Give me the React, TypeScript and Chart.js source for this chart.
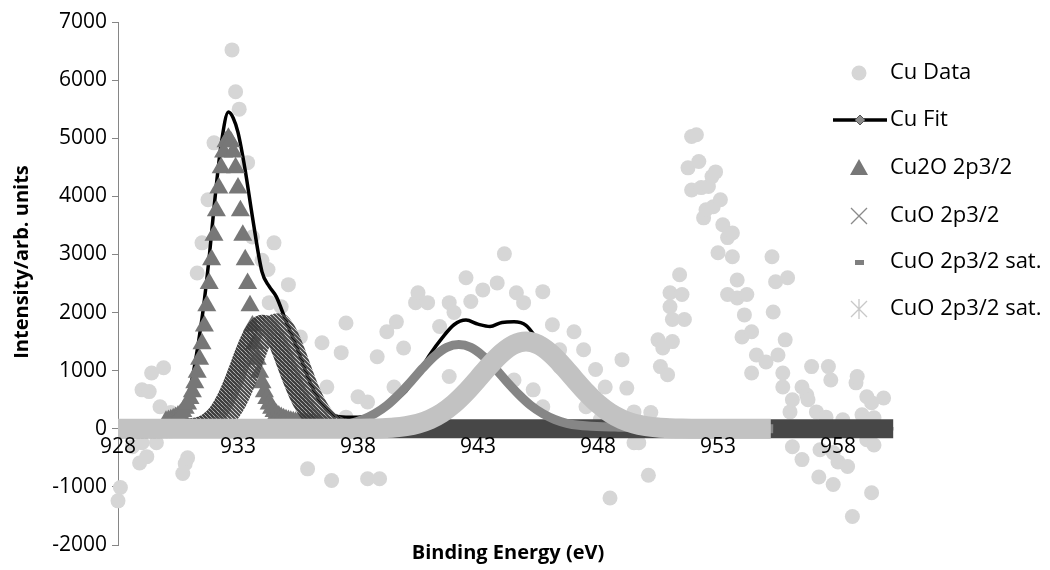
import React, { useEffect, useRef } from "react";
import { Chart, registerables } from "chart.js";

Chart.register(...registerables);

// ---------- data ----------
const xTickValues = [928, 933, 938, 943, 948, 953, 958];
const legendLabels = ["Cu Data", "Cu Fit", "Cu2O 2p3/2", "CuO 2p3/2", "CuO 2p3/2 sat.", "CuO 2p3/2 sat."];

// Cu Data (raw measured points)
const dataX = [
  928.0, 928.1, 928.6, 928.9, 929.0, 929.0, 929.2, 929.3, 929.4, 929.6, 929.75, 929.9, 930.2, 930.7, 930.8, 930.9,
  931.3, 931.5, 931.75, 932.0, 932.75, 932.9, 933.05, 933.4, 933.6, 934.0, 934.25, 934.3, 934.5, 934.8, 935.1,
  935.6, 935.9, 936.5, 936.7, 936.9, 937.3, 937.5, 937.5, 938.0, 938.4, 938.4, 938.8, 938.9, 939.2, 939.5, 939.6,
  939.9, 940.4, 940.5, 940.9, 941.4, 941.8, 941.8, 942.0, 942.5, 942.7, 943.2, 943.8, 944.1, 944.5, 944.6, 944.9,
  945.3, 945.7, 945.7, 946.1, 946.4, 946.4, 947.0, 947.4, 947.5, 947.9, 948.1, 948.3, 948.5, 949.0, 949.2, 949.5,
  949.5, 949.7, 950.1, 950.2, 950.5, 950.6, 950.7, 950.9, 951.0, 951.0, 951.1, 951.1, 951.4, 951.5, 951.6, 951.75,
  951.9, 951.9, 952.1, 952.2, 952.3, 952.4, 952.5, 952.6, 952.75, 952.8, 952.9, 953.0, 953.1, 953.2, 953.4, 953.4,
  953.6, 953.6, 953.8, 953.8, 954.0, 954.1, 954.2, 954.4, 954.4, 954.6, 955.0, 955.25, 955.3, 955.4, 955.5, 955.7,
  955.7, 955.8, 955.9, 956.0, 956.1, 956.1, 956.5, 956.5, 956.7, 956.75, 956.9, 957.1, 957.2, 957.25, 957.5, 957.6,
  957.7, 957.8, 957.8, 958.0, 958.2, 958.4, 958.6, 958.75, 958.8, 959.0, 959.2, 959.2, 959.4, 959.4, 959.5, 959.5,
  959.9,
];
const dataY = [
  -1240, -1010, -310, -590, 670, -240, -480, 640, 960, -240, 380, 1050, 280, -770, -600, -500,
  2680, 3200, 3940, 4920, 6520, 5800, 5500, 4580, 3300, 2900, 2740, 2170, 3200, 2100, 2480,
  1580, -690, 1480, 720, -890, 1310, 1820, 200, 550, 460, -860, 1240, -860, 1670, 720, 1840,
  1390, 2170, 2340, 2170, 1760, 2170, 900, 2000, 2600, 2190, 2390, 2510, 3010, 840, 2340, 2170,
  670, 2360, 380, 1790, 1360, 1070, 1670, 1360, 380, 1020, 160, 720, -1190, 1190, 700, 290,
  -240, -240, -800, 280, 1530, 1070, 1390, 930, 2340, 2100, 1880, 1500, 2650, 2310, 1880, 4490,
  5030, 4110, 5060, 4600, 4150, 3630, 3770, 4170, 4340, 3820, 4420, 3030, 3940, 3510, 3290, 2310,
  3370, 2960, 2560, 2250, 1580, 1960, 2310, 1670, 960, 1270, 1150, 2960, 2010, 2530, 1270, 960,
  720, 1530, 2600, 290, 500, -310, 720, -530, 580, 500, 1070, 290, -830, -360, 200, 1070,
  840, -410, -960, -570, 155, -650, -1510, 790, 900, 240, 550, -190, 450, -1100, 190, -280,
  530,
];

// Cu Fit
const fitX = [
  928.0, 930.0, 930.5, 931.0, 931.5, 931.8, 932.0, 932.3, 932.6, 932.8, 933.0, 933.3, 933.6, 934.0, 934.3, 934.6,
  935.0, 935.5, 936.0, 936.5, 937.0, 937.5, 938.0, 938.5, 939.0, 939.5, 940.0, 940.5, 941.0, 941.5, 942.0, 942.5,
  943.0, 943.5, 944.0, 944.5, 945.0, 945.5, 946.0, 946.5, 947.0, 947.5, 948.0, 948.5, 949.0, 950.0, 951.0, 953.0,
  960.3,
];
const fitY = [
  0, 80, 250, 700, 1900, 2950, 3800, 4900, 5450, 5350, 5100, 4450, 3650, 2700, 2450, 2270,
  1850, 1350, 800, 420, 230, 200, 200, 230, 330, 480, 650, 950, 1280, 1560, 1790, 1870,
  1800, 1760, 1830, 1840, 1780, 1520, 1250, 1000, 720, 480, 320, 200, 120, 60, 30, 0,
  0,
];

// Cu2O 2p3/2 (triangles)
const cu2oX = [
  930.0, 930.1, 930.2, 930.3, 930.4, 930.5, 930.6, 930.7, 930.8, 930.9, 931.0, 931.1, 931.2, 931.3, 931.4, 931.5,
  931.6, 931.7, 931.8, 931.9, 932.0, 932.1, 932.2, 932.3, 932.4, 932.5, 932.6, 932.7, 932.8, 932.9, 933.0, 933.1,
  933.2, 933.3, 933.4, 933.5, 933.6, 933.7, 933.8, 933.9, 934.0, 934.1, 934.2, 934.3, 934.4, 934.5, 934.6, 934.7,
  934.8, 934.9, 935.0, 935.1, 935.2, 935.3, 935.4, 935.5, 935.6, 935.7, 935.8, 935.9, 936.0, 936.1, 936.2, 936.3,
  936.4,
];
const cu2oY = [
  130, 143, 157, 173, 194, 220, 252, 296, 353, 425, 519, 637, 790, 973, 1197, 1464,
  1770, 2118, 2500, 2907, 3330, 3750, 4143, 4490, 4765, 4940, 5000, 4940, 4765, 4490, 4143, 3750,
  3330, 2907, 2500, 2118, 1770, 1464, 1197, 973, 790, 637, 519, 425, 353, 296, 252, 220,
  194, 173, 157, 143, 130, 121, 113, 106, 100, 94, 88, 83, 79, 75, 71, 67,
  63,
];

// CuO 2p3/2 (crosses) - first component
const cuoX = [
  928.0, 930.5, 930.75, 931.0, 931.25, 931.5, 931.75, 932.0, 932.25, 932.5, 932.75, 933.0, 933.25, 933.5, 933.75,
  934.0, 934.25, 934.5, 934.75, 935.0, 935.25, 935.5, 935.75, 936.0, 936.25, 936.5, 936.75, 937.0, 937.25, 937.5,
  937.75, 938.0, 960.3,
];
const cuoY = [
  0, 3, 6, 14, 30, 61, 115, 201, 333, 515, 747, 1014, 1290, 1538, 1718,
  1798, 1762, 1620, 1395, 1125, 850, 602, 400, 248, 145, 79, 40, 19, 9, 4,
  1, 0, 0,
];

// CuO 2p3/2 (crosses) - second component
const cuoBX = [
  931.0, 931.25, 931.5, 931.75, 932.0, 932.25, 932.5, 932.75, 933.0, 933.25, 933.5, 933.75, 934.0, 934.25, 934.5,
  934.75, 935.0, 935.25, 935.5, 935.75, 936.0, 936.25, 936.5, 936.75, 937.0, 937.25, 937.5, 937.75, 938.0, 938.25,
  938.5,
];
const cuoBY = [
  2, 4, 11, 23, 48, 92, 166, 282, 448, 667, 929, 1213, 1485, 1702, 1828,
  1840, 1735, 1534, 1270, 985, 716, 488, 311, 186, 104, 55, 27, 12, 5, 2,
  0,
];

// CuO 2p3/2 sat. (dashes)
const satAX = [
  928.0, 936.2, 936.7, 937.2, 937.7, 938.2, 938.7, 939.2, 939.7, 940.2, 940.7, 941.2, 941.7, 942.2, 942.7, 943.2,
  943.7, 944.2, 944.7, 945.2, 945.7, 946.2, 946.7, 947.2, 947.7, 948.2, 948.7, 949.2, 949.7, 950.2, 955.3,
];
const satAY = [
  0, 35, 45, 60, 95, 160, 260, 400, 590, 810, 1045, 1255, 1400, 1450, 1400, 1255,
  1045, 810, 590, 400, 260, 160, 95, 60, 45, 35, 30, 25, 22, 20, 0,
];

// CuO 2p3/2 sat. (asterisks)
const satBX = [
  928.0, 937.0, 937.5, 938.0, 938.5, 939.0, 939.5, 940.0, 940.5, 941.0, 941.5, 942.0, 942.5, 943.0, 943.5, 944.0,
  944.5, 945.0, 945.5, 946.0, 946.5, 947.0, 947.5, 948.0, 948.5, 949.0, 949.5, 950.0, 950.5, 951.0, 951.5, 952.0,
  952.5, 953.0, 955.2,
];
const satBY = [
  0, 0, 1, 2, 4, 10, 22, 47, 90, 163, 274, 430, 630, 861, 1098, 1305,
  1449, 1500, 1449, 1305, 1098, 861, 630, 430, 274, 163, 90, 47, 22, 10, 4, 2,
  1, 0, 0,
];

// ---------- styles ----------
const FONT = "'Open Sans', 'DejaVu Sans', sans-serif";
const C_DATA = "#d6d6d6";
const C_FIT = "#000000";
const C_TRI = "#777777";
const C_X = "#474747";
const C_DASH = "#868686";
const C_STAR = "#c2c2c2";

function pts(xs: number[], ys: number[]) {
  return xs.map((x, i) => ({ x, y: ys[i] }));
}

function makeHatch(color: string, width: number) {
  const c = document.createElement("canvas");
  c.width = 4;
  c.height = 4;
  const g = c.getContext("2d")!;
  g.strokeStyle = color;
  g.lineWidth = width;
  g.beginPath();
  g.moveTo(-1, -1);
  g.lineTo(5, 5);
  g.moveTo(-1, 3);
  g.lineTo(1, 5);
  g.moveTo(3, -1);
  g.lineTo(5, 1);
  g.stroke();
  return g.createPattern(c, "repeat")!;
}

const overlayPlugin = {
  id: "overlay",
  afterDraw(chart: any) {
    const ctx: CanvasRenderingContext2D = chart.ctx;
    const area = chart.chartArea;
    const xs = chart.scales.x;
    const ysc = chart.scales.y;
    ctx.save();
    // x tick labels (drawn on top, next to the axis at y = 0)
    ctx.fillStyle = "#000";
    ctx.font = `21px ${FONT}`;
    ctx.textAlign = "center";
    ctx.textBaseline = "middle";
    const y0 = ysc.getPixelForValue(0);
    xTickValues.forEach((v) => {
      ctx.fillText(String(v), xs.getPixelForValue(v), y0 + 18);
    });

    // axis titles
    ctx.font = `bold 20px ${FONT}`;
    ctx.fillText("Binding Energy (eV)", (area.left + area.right) / 2, 553);
    ctx.save();
    ctx.translate(22, 262);
    ctx.rotate(-Math.PI / 2);
    ctx.fillText("Intensity/arb. units", 0, 0);
    ctx.restore();

    // legend
    const mx = 859;
    const tx = 890;
    const ys = [73, 120, 168, 216, 262, 309];
    ctx.font = `22px ${FONT}`;
    ctx.textAlign = "left";
    ctx.textBaseline = "middle";
    ys.forEach((y, i) => {
      ctx.fillStyle = "#000";
      ctx.fillText(legendLabels[i], tx, y);
    });
    // circle
    ctx.fillStyle = C_DATA;
    ctx.beginPath();
    ctx.arc(mx, ys[0], 7.5, 0, Math.PI * 2);
    ctx.fill();
    // fit line + diamond
    ctx.strokeStyle = C_FIT;
    ctx.lineWidth = 3.5;
    ctx.beginPath();
    ctx.moveTo(833, ys[1]);
    ctx.lineTo(887, ys[1]);
    ctx.stroke();
    ctx.fillStyle = "#8c8c8c";
    ctx.strokeStyle = "#555";
    ctx.lineWidth = 1;
    ctx.beginPath();
    ctx.moveTo(860, ys[1] - 5);
    ctx.lineTo(865, ys[1]);
    ctx.lineTo(860, ys[1] + 5);
    ctx.lineTo(855, ys[1]);
    ctx.closePath();
    ctx.fill();
    ctx.stroke();
    // triangle
    ctx.fillStyle = C_TRI;
    ctx.beginPath();
    ctx.moveTo(mx, ys[2] - 9);
    ctx.lineTo(mx + 9, ys[2] + 7);
    ctx.lineTo(mx - 9, ys[2] + 7);
    ctx.closePath();
    ctx.fill();
    // cross
    ctx.strokeStyle = "#8a8a8a";
    ctx.lineWidth = 1.3;
    ctx.beginPath();
    ctx.moveTo(mx - 8, ys[3] - 8);
    ctx.lineTo(mx + 8, ys[3] + 8);
    ctx.moveTo(mx + 8, ys[3] - 8);
    ctx.lineTo(mx - 8, ys[3] + 8);
    ctx.stroke();
    // dash
    ctx.fillStyle = "#7f7f7f";
    ctx.fillRect(mx - 4, ys[4] - 2, 9, 5);
    // asterisk
    ctx.strokeStyle = "#c8c8c8";
    ctx.lineWidth = 1.3;
    ctx.beginPath();
    ctx.moveTo(mx - 8, ys[5] - 8);
    ctx.lineTo(mx + 8, ys[5] + 8);
    ctx.moveTo(mx + 8, ys[5] - 8);
    ctx.lineTo(mx - 8, ys[5] + 8);
    ctx.moveTo(mx, ys[5] - 10);
    ctx.lineTo(mx, ys[5] + 10);
    ctx.stroke();
    ctx.restore();
  },
};

export default function App() {
  const ref = useRef<HTMLCanvasElement>(null);

  useEffect(() => {
    const canvas = ref.current;
    if (!canvas) return;
    const hatchX = makeHatch("#3c3c3c", 2.3);
    const hatchX2 = makeHatch("#484848", 2.2);
    const lineBase = {
      showLine: true,
      pointRadius: 0,
      cubicInterpolationMode: "monotone" as const,
      fill: false,
    };
    const flat = (c: any) => c.p0.parsed.y === 0 && c.p1.parsed.y === 0;
    const chart = new Chart(canvas, {
      type: "scatter",
      data: {
        datasets: [
          {
            ...lineBase,
            label: legendLabels[5],
            data: pts(satBX, satBY),
            borderColor: C_STAR,
            borderWidth: 20,
            order: 0,
          },
          {
            ...lineBase,
            label: legendLabels[4],
            data: pts(satAX, satAY),
            borderColor: C_DASH,
            borderWidth: 9,
            order: 1,
          },
          {
            ...lineBase,
            label: "CuO 2p3/2 (b)",
            data: pts(cuoBX, cuoBY),
            borderColor: hatchX2 as any,
            borderWidth: 17,
            order: 2,
          },
          {
            ...lineBase,
            label: legendLabels[3],
            data: pts(cuoX, cuoY),
            borderColor: C_X,
            borderWidth: 19,
            segment: {
              borderColor: (c: any) => (flat(c) ? C_X : (hatchX as any)),
            },
            order: 3,
          },
          {
            label: legendLabels[2],
            data: pts(cu2oX, cu2oY),
            showLine: false,
            pointStyle: "triangle",
            pointRadius: 11,
            backgroundColor: C_TRI,
            borderWidth: 0,
            order: 4,
          },
          {
            ...lineBase,
            label: legendLabels[1],
            data: pts(fitX, fitY),
            borderColor: C_FIT,
            borderWidth: 3.5,
            order: 5,
          },
          {
            label: legendLabels[0],
            data: pts(dataX, dataY),
            showLine: false,
            pointStyle: "circle",
            pointRadius: 7.5,
            backgroundColor: C_DATA,
            borderWidth: 0,
            order: 6,
            clip: false as any,
          },
        ],
      },
      options: {
        animation: false,
        responsive: true,
        maintainAspectRatio: false,
        events: [],
        layout: { padding: { left: 0, top: 22, right: 152, bottom: 25 } },
        plugins: {
          legend: { display: false },
          tooltip: { enabled: false },
        },
        scales: {
          x: {
            type: "linear",
            min: 928,
            max: 960.5,
            position: { y: 0 } as any,
            grid: { display: false },
            border: { display: false },
            afterBuildTicks: (s: any) => {
              s.ticks = xTickValues.map((v) => ({ value: v }));
            },
            ticks: { display: false },
          },
          y: {
            type: "linear",
            min: -2000,
            max: 7000,
            position: "left",
            afterFit: (s: any) => {
              s.width = 118;
            },
            grid: {
              display: true,
              drawOnChartArea: false,
              drawTicks: true,
              tickLength: 6,
              color: "#868686",
            },
            border: { display: true, color: "#868686", width: 1 },
            ticks: {
              stepSize: 1000,
              padding: 5,
              color: "#000",
              font: { family: FONT, size: 21 },
              callback: (v: any) => String(v),
            },
          },
        },
      },
      plugins: [overlayPlugin],
    });
    return () => chart.destroy();
  }, []);

  return (
    <div style={{ position: "absolute", left: 0, top: 0, width: 1050, height: 570, background: "#fff" }}>
      <canvas ref={ref} />
    </div>
  );
}
